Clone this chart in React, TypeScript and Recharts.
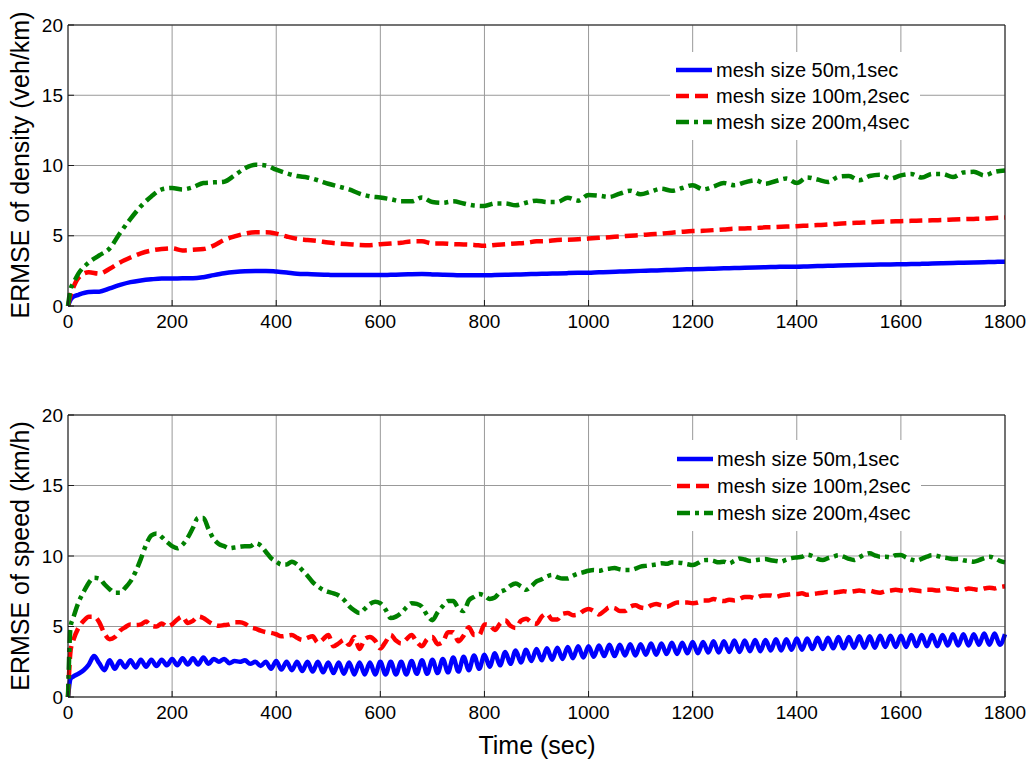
import React from 'react';
import {
  LineChart,
  Line,
  XAxis,
  YAxis,
  CartesianGrid,
  Legend,
} from 'recharts';

// time samples (sec)
const topTime = [
  0, 5, 10,
  20, 40, 60, 80, 100, 120, 140, 160, 180, 200,
  220, 240, 260, 280, 300, 320, 340, 360, 380, 400,
  420, 440, 460, 480, 500, 520, 540, 560, 580, 600,
  620, 640, 660, 680, 700, 720, 740, 760, 780, 800,
  820, 840, 860, 880, 900, 920, 940, 960, 980, 1000,
  1020, 1040, 1060, 1080, 1100, 1120, 1140, 1160, 1180, 1200,
  1220, 1240, 1260, 1280, 1300, 1320, 1340, 1360, 1380, 1400,
  1420, 1440, 1460, 1480, 1500, 1520, 1540, 1560, 1580, 1600,
  1620, 1640, 1660, 1680, 1700, 1720, 1740, 1760, 1780, 1800,
];

// ERMSE of density (veh/km)
const densityBlue = [
  0, 0.45, 0.65,
  0.8, 1.0, 1.02, 1.25, 1.5, 1.7, 1.82, 1.9, 1.95, 1.95,
  1.97, 1.97, 2.05, 2.2, 2.33, 2.42, 2.48, 2.5, 2.5, 2.45,
  2.38, 2.3, 2.27, 2.25, 2.22, 2.2, 2.2, 2.2, 2.2, 2.2,
  2.22, 2.24, 2.26, 2.27, 2.25, 2.22, 2.2, 2.19, 2.18, 2.18,
  2.2, 2.22, 2.24, 2.26, 2.28, 2.3, 2.32, 2.34, 2.36, 2.37,
  2.4, 2.42, 2.45, 2.48, 2.5, 2.52, 2.54, 2.57, 2.6, 2.62,
  2.64, 2.66, 2.68, 2.7, 2.72, 2.74, 2.76, 2.78, 2.8, 2.8,
  2.82, 2.84, 2.86, 2.88, 2.9, 2.92, 2.94, 2.95, 2.96, 2.97,
  2.99, 3.0, 3.02, 3.04, 3.06, 3.08, 3.1, 3.12, 3.14, 3.15,
];
const densityRed = [
  0, 0.8, 1.3,
  2.0, 2.4, 2.3, 2.65, 3.1, 3.45, 3.75, 3.95, 4.05, 4.1,
  3.95, 4.0, 4.05, 4.3, 4.7, 4.95, 5.15, 5.25, 5.25, 5.15,
  4.95, 4.78, 4.7, 4.62, 4.52, 4.45, 4.4, 4.35, 4.33, 4.4,
  4.45, 4.5, 4.6, 4.6, 4.45, 4.45, 4.4, 4.38, 4.35, 4.28,
  4.35, 4.4, 4.45, 4.5, 4.6, 4.62, 4.7, 4.72, 4.75, 4.8,
  4.85, 4.9, 4.95, 5.0, 5.05, 5.1, 5.15, 5.22, 5.28, 5.33,
  5.35, 5.4, 5.45, 5.5, 5.52, 5.55, 5.6, 5.62, 5.65, 5.68,
  5.72, 5.76, 5.8, 5.86, 5.9, 5.93, 5.96, 6.0, 6.02, 6.04,
  6.06, 6.08, 6.1, 6.12, 6.15, 6.18, 6.2, 6.22, 6.26, 6.3,
];
const densityGreen = [
  0, 1.2, 1.6,
  2.3, 3.1, 3.6, 4.1, 5.2, 6.2, 7.1, 7.8, 8.3, 8.4,
  8.3, 8.45, 8.75, 8.8, 8.85, 9.3, 9.8, 10.05, 10.0, 9.7,
  9.45, 9.25, 9.15, 8.95, 8.7, 8.5, 8.3, 8.0, 7.8, 7.72,
  7.6, 7.45, 7.45, 7.72, 7.4, 7.35, 7.45, 7.3, 7.15, 7.12,
  7.3, 7.3, 7.17, 7.35, 7.5, 7.4, 7.4, 7.7, 7.5, 7.9,
  7.85, 7.76, 8.0, 8.2, 7.95, 8.15, 8.35, 8.2, 8.4, 8.6,
  8.3, 8.5, 8.75, 8.6, 8.8, 8.95, 8.7, 8.9, 9.07, 8.75,
  9.15, 9.0, 8.83, 9.2, 9.25, 8.95, 9.25, 9.35, 9.07, 9.3,
  9.4, 9.14, 9.4, 9.4, 9.18, 9.5, 9.55, 9.3, 9.55, 9.65,
];

const bottomTime = [
  0, 5,
  10, 20, 30, 40, 50, 60, 70, 80, 90, 100,
  110, 120, 130, 140, 150, 160, 170, 180, 190, 200,
  210, 220, 230, 240, 250, 260, 270, 280, 290, 300,
  310, 320, 330, 340, 350, 360, 370, 380, 390, 400,
  410, 420, 430, 440, 450, 460, 470, 480, 490, 500,
  510, 520, 530, 540, 550, 560, 570, 580, 590, 600,
  610, 620, 630, 640, 650, 660, 670, 680, 690, 700,
  710, 720, 730, 740, 750, 760, 770, 780, 790, 800,
  810, 820, 830, 840, 850, 860, 870, 880, 890, 900,
  910, 920, 930, 940, 950, 960, 970, 980, 990, 1000,
  1010, 1020, 1030, 1040, 1050, 1060, 1070, 1080, 1090, 1100,
  1110, 1120, 1130, 1140, 1150, 1160, 1170, 1180, 1190, 1200,
  1210, 1220, 1230, 1240, 1250, 1260, 1270, 1280, 1290, 1300,
  1310, 1320, 1330, 1340, 1350, 1360, 1370, 1380, 1390, 1400,
  1410, 1420, 1430, 1440, 1450, 1460, 1470, 1480, 1490, 1500,
  1510, 1520, 1530, 1540, 1550, 1560, 1570, 1580, 1590, 1600,
  1610, 1620, 1630, 1640, 1650, 1660, 1670, 1680, 1690, 1700,
  1710, 1720, 1730, 1740, 1750, 1760, 1770, 1780, 1790, 1800,
];

// ERMSE of speed (km/h)
const speedBlue = [
  0, 1.3,
  1.45, 1.65, 1.9, 2.3, 2.9, 2.4, 1.9, 2.6, 2.0, 2.55,
  2.1, 2.6, 2.1, 2.65, 2.15, 2.65, 2.2, 2.65, 2.25, 2.7,
  2.25, 2.75, 2.3, 2.75, 2.3, 2.8, 2.35, 2.7, 2.5, 2.7,
  2.4, 2.55, 2.5, 2.6, 2.35, 2.5, 2.2, 2.5, 2.0, 2.55,
  1.95, 2.5, 1.9, 2.5, 1.85, 2.5, 1.8, 2.5, 1.75, 2.45,
  1.7, 2.45, 1.65, 2.45, 1.6, 2.45, 1.6, 2.45, 1.6, 2.5,
  1.6, 2.5, 1.6, 2.5, 1.6, 2.55, 1.65, 2.6, 1.65, 2.65,
  1.7, 2.7, 1.75, 2.8, 1.8, 2.85, 1.9, 2.95, 2.0, 3.0,
  2.15, 3.1, 2.25, 3.2, 2.35, 3.3, 2.45, 3.35, 2.55, 3.4,
  2.6, 3.45, 2.65, 3.5, 2.7, 3.55, 2.75, 3.6, 2.8, 3.6,
  2.85, 3.65, 2.9, 3.7, 2.9, 3.7, 2.95, 3.75, 2.95, 3.75,
  3.0, 3.8, 3.0, 3.8, 3.05, 3.85, 3.05, 3.85, 3.1, 3.9,
  3.1, 3.9, 3.15, 3.95, 3.15, 3.95, 3.2, 4.0, 3.2, 4.0,
  3.25, 4.05, 3.25, 4.05, 3.3, 4.1, 3.3, 4.1, 3.35, 4.15,
  3.35, 4.15, 3.4, 4.2, 3.4, 4.2, 3.45, 4.25, 3.45, 4.25,
  3.5, 4.3, 3.5, 4.3, 3.5, 4.35, 3.55, 4.35, 3.55, 4.35,
  3.55, 4.4, 3.6, 4.4, 3.6, 4.4, 3.6, 4.4, 3.65, 4.45,
  3.65, 4.45, 3.65, 4.45, 3.7, 4.5, 3.7, 4.5, 3.7, 4.45,
];
const speedRed = [
  0, 3.3,
  4.0, 4.9, 5.4, 5.7, 5.7, 5.3, 4.5, 4.1, 4.25, 4.7,
  4.95, 5.15, 5.1, 5.15, 5.35, 5.05, 5.0, 5.22, 5.0, 5.15,
  5.5, 5.7, 5.25, 5.4, 5.7, 5.6, 5.35, 5.15, 5.05, 5.1,
  5.15, 5.3, 5.3, 5.2, 4.95, 4.85, 4.7, 4.6, 4.55, 4.45,
  4.3, 4.35, 4.4, 4.2, 4.05, 4.2, 4.3, 3.85, 4.1, 4.4,
  3.6, 3.8, 4.05, 3.7, 4.25, 3.4, 4.1, 4.25, 4.0, 3.45,
  3.9, 4.4, 4.0, 3.8, 4.1, 4.4, 3.9, 3.6, 4.1, 4.25,
  3.75, 3.9, 4.6, 4.6, 3.95, 4.35, 4.95, 4.4, 4.4, 5.15,
  5.1, 4.75, 5.2, 5.45, 5.05, 4.9, 5.4, 5.55, 5.3, 5.2,
  5.7, 5.9, 5.5, 5.5, 5.9, 5.95, 5.8, 5.85, 6.1, 6.25,
  6.1, 5.85, 6.1, 6.35, 6.3, 6.1, 6.1, 6.4, 6.5, 6.35,
  6.3, 6.5, 6.6, 6.5, 6.4, 6.55, 6.7, 6.7, 6.7, 6.65,
  6.7, 6.85, 6.85, 6.95, 6.85, 6.8, 6.9, 6.85, 6.95, 7.1,
  7.1, 7.0, 7.15, 7.2, 7.2, 7.1, 7.2, 7.25, 7.3, 7.3,
  7.35, 7.25, 7.3, 7.35, 7.4, 7.45, 7.4, 7.45, 7.5, 7.45,
  7.5, 7.55, 7.5, 7.55, 7.45, 7.4, 7.5, 7.55, 7.6, 7.55,
  7.5, 7.6, 7.55, 7.5, 7.6, 7.6, 7.55, 7.6, 7.7, 7.65,
  7.6, 7.6, 7.7, 7.65, 7.6, 7.7, 7.75, 7.7, 7.8, 7.85,
];
const speedGreen = [
  0, 5.0,
  5.6, 6.7, 7.45, 8.1, 8.45, 8.4, 8.0, 7.65, 7.4, 7.4,
  7.75, 8.2, 8.9, 9.8, 10.8, 11.45, 11.6, 11.35, 11.0, 10.7,
  10.55, 10.8, 11.3, 12.0, 12.7, 12.7, 11.9, 11.2, 10.85, 10.7,
  10.55, 10.6, 10.65, 10.7, 10.7, 10.9, 10.75, 10.3, 9.85, 9.6,
  9.4, 9.4, 9.6, 9.4, 9.0, 8.6, 8.15, 7.85, 7.6, 7.45,
  7.35, 7.2, 6.9, 6.45, 6.15, 5.95, 6.25, 6.6, 6.75, 6.65,
  6.2, 5.6, 5.7, 5.95, 6.35, 6.65, 6.6, 6.4, 5.8, 5.45,
  6.0, 6.45, 6.8, 6.8, 6.3, 6.1, 6.85, 7.1, 7.3, 7.2,
  6.95, 7.05, 7.45, 7.6, 7.9, 8.05, 7.85, 7.6, 7.85, 8.2,
  8.35, 8.55, 8.65, 8.5, 8.4, 8.4, 8.6, 8.75, 8.85, 8.95,
  9.0, 8.95, 9.05, 9.1, 9.15, 9.05, 9.0, 9.0, 9.1, 9.25,
  9.3, 9.35, 9.4, 9.48, 9.45, 9.55, 9.53, 9.5, 9.42, 9.36,
  9.5, 9.7, 9.72, 9.65, 9.55, 9.6, 9.48, 9.65, 9.83, 9.75,
  9.65, 9.7, 9.75, 9.78, 9.7, 9.65, 9.6, 9.75, 9.85, 9.9,
  9.95, 10.1, 10.0, 9.8, 9.72, 9.85, 9.95, 10.05, 9.95, 9.8,
  9.72, 9.9, 10.1, 10.2, 10.05, 9.95, 9.95, 9.9, 10.05, 10.07,
  9.9, 9.75, 9.67, 9.8, 9.95, 10.05, 10.0, 9.9, 9.85, 9.78,
  9.8, 9.7, 9.65, 9.6, 9.7, 9.85, 9.95, 9.85, 9.65, 9.55,
];

const xTicks = [0, 200, 400, 600, 800, 1000, 1200, 1400, 1600, 1800];
const yTicks = [0, 5, 10, 15, 20];

const seriesNames = ['mesh size 50m,1sec', 'mesh size 100m,2sec', 'mesh size 200m,4sec'];

const FONT = '"Liberation Sans", Arial, Helvetica, sans-serif';
const AXIS = '#1a1a1a';
const GRID = '#999999';

const SERIES = [
  { key: 'b', color: '#0000ff', dash: undefined as string | undefined },
  { key: 'r', color: '#ff0000', dash: '13 6' },
  { key: 'g', color: '#008000', dash: '13 5 4 5' },
];

const topData = topTime.map((t, i) => ({
  t,
  b: densityBlue[i],
  r: densityRed[i],
  g: densityGreen[i],
}));

const bottomData = bottomTime.map((t, i) => ({
  t,
  b: speedBlue[i],
  r: speedRed[i],
  g: speedGreen[i],
}));

const MeshLegend = ({ rowH }: { rowH: number }) => (
  <div style={{ background: '#fff', padding: '5px 0 5px 6px', fontFamily: FONT }}>
    {SERIES.map((s, i) => (
      <div key={s.key} style={{ display: 'flex', alignItems: 'center', height: rowH }}>
        <svg width={36} height={8} style={{ display: 'block' }}>
          <line x1={0} y1={4} x2={36} y2={4} stroke={s.color} strokeWidth={4.5} strokeDasharray={s.dash} />
        </svg>
        <span style={{ marginLeft: 4, fontSize: 20, color: '#000', whiteSpace: 'nowrap', lineHeight: 1 }}>
          {seriesNames[i]}
        </span>
      </div>
    ))}
  </div>
);

interface PanelProps {
  data: Array<{ t: number; b: number; r: number; g: number }>;
  height: number;
  marginBottom: number;
  legendLeft: number;
  legendTop: number;
  rowH: number;
}

const Panel: React.FC<PanelProps> = ({ data, height, marginBottom, legendLeft, legendTop, rowH }) => {
  const tickStyle = { fill: '#000', fontSize: 19, fontFamily: FONT };
  return (
    <LineChart
      width={1034}
      height={height}
      data={data}
      margin={{ top: 24, right: 28, bottom: marginBottom, left: 8 }}
    >
      <CartesianGrid stroke={GRID} strokeWidth={1} />
      <XAxis
        dataKey="t"
        type="number"
        domain={[0, 1800]}
        ticks={xTicks}
        interval={0}
        height={30}
        tick={tickStyle}
        tickSize={-6}
        tickMargin={15}
        stroke={AXIS}
      />
      <XAxis
        xAxisId="top"
        orientation="top"
        dataKey="t"
        type="number"
        domain={[0, 1800]}
        ticks={xTicks}
        interval={0}
        height={1}
        tick={false}
        tickSize={-6}
        stroke={AXIS}
      />
      <YAxis
        type="number"
        domain={[0, 20]}
        ticks={yTicks}
        interval={0}
        width={60}
        tick={tickStyle}
        tickSize={-6}
        tickMargin={11}
        stroke={AXIS}
      />
      <YAxis
        yAxisId="right"
        orientation="right"
        type="number"
        domain={[0, 20]}
        ticks={yTicks}
        interval={0}
        width={1}
        tick={false}
        tickSize={-6}
        stroke={AXIS}
      />
      <Legend
        layout="vertical"
        align="center"
        verticalAlign="middle"
        wrapperStyle={{ left: legendLeft, top: legendTop, width: 250 }}
        content={() => <MeshLegend rowH={rowH} />}
      />
      {SERIES.map((s, i) => (
        <Line
          key={s.key}
          type="monotone"
          dataKey={s.key}
          name={seriesNames[i]}
          stroke={s.color}
          strokeWidth={4.5}
          strokeDasharray={s.dash}
          dot={false}
          activeDot={false}
          isAnimationActive={false}
        />
      ))}
    </LineChart>
  );
};

const App: React.FC = () => {
  const yLabel: React.CSSProperties = {
    position: 'absolute',
    left: 20,
    transform: 'translate(-50%, -50%) rotate(-90deg)',
    whiteSpace: 'nowrap',
    fontSize: 25,
    lineHeight: 1,
    color: '#000',
  };
  return (
    <div
      style={{
        position: 'absolute',
        left: 0,
        top: 0,
        width: 1034,
        height: 763,
        background: '#fff',
        fontFamily: FONT,
        overflow: 'hidden',
      }}
    >
      <div style={{ position: 'absolute', left: 0, top: 0 }}>
        <Panel data={topData} height={390} marginBottom={54} legendLeft={670} legendTop={52} rowH={26} />
      </div>
      <div style={{ position: 'absolute', left: 0, top: 390 }}>
        <Panel data={bottomData} height={373} marginBottom={36} legendLeft={671} legendTop={50} rowH={27} />
      </div>
      <div style={{ ...yLabel, top: 165 }}>ERMSE of density (veh/km)</div>
      <div style={{ ...yLabel, top: 556 }}>ERMSE of speed (km/h)</div>
      <div
        style={{
          position: 'absolute',
          left: 537,
          top: 745,
          transform: 'translate(-50%, -50%)',
          whiteSpace: 'nowrap',
          fontSize: 25,
          lineHeight: 1,
          color: '#000',
        }}
      >
        Time (sec)
      </div>
    </div>
  );
};

export default App;
